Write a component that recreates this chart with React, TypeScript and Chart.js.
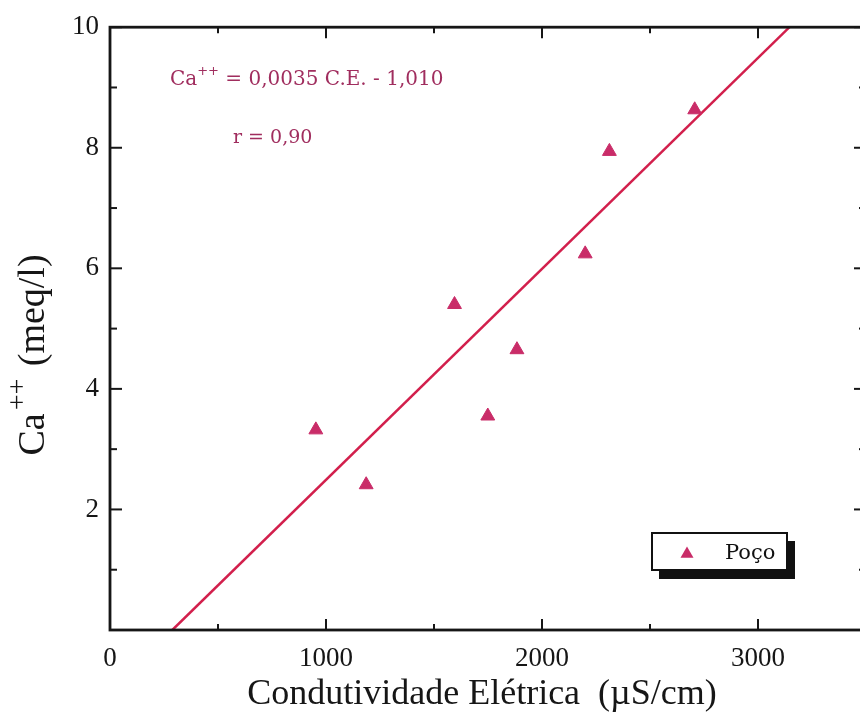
import React, { useEffect, useRef } from "react";
import { Chart, registerables } from "chart.js";

Chart.register(...registerables);

// Measured wells: electrical conductivity (µS/cm) vs. calcium (meq/l)
const condutividade = [953, 1186, 1595, 1749, 1884, 2200, 2312, 2707];
const calcio = [3.32, 2.41, 5.4, 3.55, 4.65, 6.24, 7.94, 8.63];

// Linear fit stated on the chart: Ca++ = 0,0035 C.E. - 1,010
const slope = 0.0035;
const intercept = -1.01;
const rLabel = "r = 0,90";
const fitYRange = [0, 10];

const xTicks = [0, 1000, 2000, 3000];
const yTicks = [2, 4, 6, 8, 10];
const xRange = [0, 3500];
const yRange = [0, 10];
const xMinorStep = 500;
const xMajorStep = 1000;
const yMinorStep = 1;
const yMajorStep = 2;

const seriesLabel = "Poço";
const xTitle = "Condutividade Elétrica  (µS/cm)";

const serif = "'Liberation Serif', 'Times New Roman', serif";
const noteFont = "'DejaVu Serif', serif";
const ink = "#161616";
const noteColor = "#a02d5e";
const markColor = "#c92c68";
const lineColor = "#d21f4c";

const overlay = {
  id: "overlay",
  afterDraw(chart: any) {
    const { ctx, chartArea: a, scales } = chart;
    const xs = scales.x;
    const ys = scales.y;
    const seg = (x1: number, y1: number, x2: number, y2: number) => {
      ctx.beginPath();
      ctx.moveTo(x1, y1);
      ctx.lineTo(x2, y2);
      ctx.stroke();
    };

    ctx.save();
    ctx.strokeStyle = ink;
    ctx.lineWidth = 2.8;
    ctx.strokeRect(a.left, a.top, a.right - a.left, a.bottom - a.top);

    // inward tick marks on all four sides
    ctx.lineWidth = 2;
    for (let v = xRange[0]; v <= xRange[1]; v += xMinorStep) {
      const px = xs.getPixelForValue(v);
      const len = v % xMajorStep === 0 ? 11 : 6;
      seg(px, a.bottom, px, a.bottom - len);
      seg(px, a.top, px, a.top + len);
    }
    for (let v = yRange[0]; v <= yRange[1]; v += yMinorStep) {
      const py = ys.getPixelForValue(v);
      const len = v % yMajorStep === 0 ? 12 : 7;
      seg(a.left, py, a.left + len, py);
      seg(a.right, py, a.right - len, py);
    }

    // x axis title
    ctx.fillStyle = ink;
    ctx.font = `36px ${serif}`;
    ctx.textAlign = "center";
    ctx.textBaseline = "alphabetic";
    ctx.fillText(xTitle, 482, 704);

    // y axis title with superscript charge
    ctx.save();
    ctx.translate(44, 355);
    ctx.rotate(-Math.PI / 2);
    ctx.textAlign = "left";
    const mainFont = `38px ${serif}`;
    const supFont = `28px ${serif}`;
    const gap = 3;
    ctx.font = mainFont;
    const wCa = ctx.measureText("Ca").width;
    const wRest = ctx.measureText(" (meq/l)").width;
    ctx.font = supFont;
    const wSup = ctx.measureText("++").width;
    let cx = -(wCa + wSup + wRest + 2 * gap) / 2;
    ctx.font = mainFont;
    ctx.fillText("Ca", cx, 0);
    cx += wCa + gap;
    ctx.font = supFont;
    ctx.fillText("++", cx, -18);
    cx += wSup + gap;
    ctx.font = mainFont;
    ctx.fillText(" (meq/l)", cx, 0);
    ctx.restore();

    // fit equation and correlation
    ctx.fillStyle = noteColor;
    ctx.textAlign = "left";
    ctx.textBaseline = "alphabetic";
    const eqFont = `20px ${noteFont}`;
    const eqSup = `13px ${noteFont}`;
    let ex = 170;
    const eb = 85;
    ctx.font = eqFont;
    ctx.fillText("Ca", ex, eb);
    ex += ctx.measureText("Ca").width;
    ctx.font = eqSup;
    ctx.fillText("++", ex, eb - 10);
    ex += ctx.measureText("++").width;
    ctx.font = eqFont;
    const slopeText = slope.toFixed(4).replace(".", ",");
    const interText = Math.abs(intercept).toFixed(3).replace(".", ",");
    ctx.fillText(` = ${slopeText} C.E. - ${interText}`, ex, eb);
    ctx.font = `19px ${noteFont}`;
    ctx.fillText(rLabel, 233, 143);

    // legend box with drop shadow
    const lx = 652;
    const ly = 533;
    const lw = 135;
    const lh = 37;
    ctx.fillStyle = "#111";
    ctx.fillRect(lx + 7, ly + 8, lw + 1, lh + 1);
    ctx.fillStyle = "#fff";
    ctx.fillRect(lx, ly, lw, lh);
    ctx.strokeStyle = "#111";
    ctx.lineWidth = 2;
    ctx.strokeRect(lx, ly, lw, lh);
    const ds = chart.data.datasets[0];
    ctx.fillStyle = ds.backgroundColor;
    const tx = 687;
    const ty = 554;
    const r = 7.5;
    ctx.beginPath();
    ctx.moveTo(tx, ty - r);
    ctx.lineTo(tx + r * Math.sin((2 * Math.PI) / 3), ty - r * Math.cos((2 * Math.PI) / 3));
    ctx.lineTo(tx + r * Math.sin((4 * Math.PI) / 3), ty - r * Math.cos((4 * Math.PI) / 3));
    ctx.closePath();
    ctx.fill();
    ctx.fillStyle = "#111";
    ctx.font = `21px ${noteFont}`;
    ctx.fillText(ds.label, 725, 559);

    ctx.restore();
  },
};

export default function App() {
  const canvasRef = useRef<HTMLCanvasElement | null>(null);

  useEffect(() => {
    const canvas = canvasRef.current;
    if (!canvas) return;

    const wells = condutividade.map((x, i) => ({ x, y: calcio[i] }));
    const fit = fitYRange.map((y) => ({ x: (y - intercept) / slope, y }));

    const chart = new Chart(canvas, {
      type: "scatter",
      data: {
        datasets: [
          {
            label: seriesLabel,
            data: wells,
            pointStyle: "triangle",
            pointRadius: 8,
            backgroundColor: markColor,
            borderColor: markColor,
            borderWidth: 1,
            order: 1,
          },
          {
            label: "ajuste",
            data: fit,
            showLine: true,
            pointRadius: 0,
            borderColor: lineColor,
            borderWidth: 2.5,
            order: 2,
          },
        ],
      },
      options: {
        animation: false,
        responsive: false,
        maintainAspectRatio: false,
        layout: { padding: { top: 21, right: 14, left: 0, bottom: 0 } },
        plugins: {
          legend: { display: false },
          tooltip: { enabled: false },
        },
        scales: {
          x: {
            type: "linear",
            min: xRange[0],
            max: xRange[1],
            afterFit: (s: any) => {
              s.height = 98;
            },
            afterBuildTicks: (s: any) => {
              s.ticks = xTicks.map((value) => ({ value }));
            },
            grid: { display: false, drawTicks: false },
            border: { display: false },
            ticks: {
              color: ink,
              font: { family: serif, size: 27 },
              padding: 13,
              maxRotation: 0,
              autoSkip: false,
              callback: (v: any) => String(v),
            },
          },
          y: {
            type: "linear",
            min: yRange[0],
            max: yRange[1],
            afterFit: (s: any) => {
              s.width = 110;
            },
            afterBuildTicks: (s: any) => {
              s.ticks = yTicks.map((value) => ({ value }));
            },
            grid: { display: false, drawTicks: false },
            border: { display: false },
            ticks: {
              color: ink,
              font: { family: serif, size: 27 },
              padding: 11,
              autoSkip: false,
              callback: (v: any) => String(v),
            },
          },
        },
      },
      plugins: [overlay],
    });

    return () => chart.destroy();
  }, []);

  return (
    <div
      style={{
        position: "absolute",
        left: 0,
        top: 0,
        width: 860,
        height: 728,
        overflow: "hidden",
        background: "#fff",
      }}
    >
      <canvas ref={canvasRef} width={880} height={728} style={{ display: "block" }} />
    </div>
  );
}
